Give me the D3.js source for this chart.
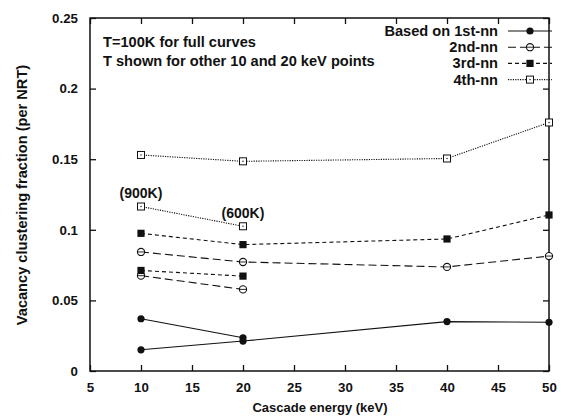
<!DOCTYPE html>
<html>
<head>
<meta charset="utf-8">
<script src="https://cdn.jsdelivr.net/npm/d3@7"></script>
<style>
  html, body { margin: 0; padding: 0; background: #fff; }
  svg text { font-family: "Liberation Sans", Arial, Helvetica, sans-serif; font-weight: bold; fill: #111; }
</style>
</head>
<body>
<svg id="chart" width="562" height="418"></svg>
<script>
// Cascade energies (keV)
const energies = [10, 20, 40, 50];
const lowEnergies = [10, 20];

// Vacancy clustering fraction at T=100K (full curves)
const nn1 = [0.0150, 0.0212, 0.0350, 0.0345];
const nn2 = [0.0843, 0.0772, 0.0737, 0.0814];
const nn3 = [0.0975, 0.0895, 0.0935, 0.1105];
const nn4 = [0.1530, 0.1485, 0.1505, 0.1760];

// Higher-temperature 10 and 20 keV points
const nn1Hot = [0.0370, 0.0235];
const nn2Hot = [0.0675, 0.0578];
const nn3Hot = [0.0712, 0.0672];
const nn4Hot = [0.1165, 0.1025];
const tempLabels = ["(900K)", "(600K)"];

const xTicks = [5, 10, 15, 20, 25, 30, 35, 40, 45, 50];
const yTicks = [0, 0.05, 0.1, 0.15, 0.2, 0.25];
const legendNames = ["Based on 1st-nn", "2nd-nn", "3rd-nn", "4th-nn"];

const svg = d3.select("#chart");
const plotLeft = 90, plotRight = 549, plotTop = 18, plotBottom = 371;

const x = d3.scaleLinear().domain([5, 50]).range([plotLeft, plotRight]);
const y = d3.scaleLinear().domain([0, 0.25]).range([plotBottom, plotTop]);

const styles = [
  { dash: null, marker: "filledCircle" },
  { dash: "8,4", marker: "openCircle" },
  { dash: "4,3", marker: "filledSquare" },
  { dash: "1.2,1.2", marker: "openSquare" }
];

// frame
svg.append("rect").attr("x", plotLeft).attr("y", plotTop)
  .attr("width", plotRight - plotLeft).attr("height", plotBottom - plotTop)
  .attr("fill", "none").attr("stroke", "#111").attr("stroke-width", 1.5);

// axes with inward ticks, mirrored on top and right
const fmtY = d => d === 0 ? "0" : String(d);
const gx = svg.append("g").attr("transform", `translate(0,${plotBottom})`)
  .call(d3.axisBottom(x).tickValues(xTicks).tickSizeInner(-6).tickSizeOuter(0).tickPadding(12));
const gxTop = svg.append("g").attr("transform", `translate(0,${plotTop})`)
  .call(d3.axisTop(x).tickValues(xTicks).tickSizeInner(-6).tickSizeOuter(0).tickFormat(""));
const gy = svg.append("g").attr("transform", `translate(${plotLeft},0)`)
  .call(d3.axisLeft(y).tickValues(yTicks).tickSizeInner(-6).tickSizeOuter(0).tickPadding(12).tickFormat(fmtY));
const gyRight = svg.append("g").attr("transform", `translate(${plotRight},0)`)
  .call(d3.axisRight(y).tickValues(yTicks).tickSizeInner(-6).tickSizeOuter(0).tickFormat(""));
[gx, gxTop, gy, gyRight].forEach(g => {
  g.select(".domain").remove();
  g.selectAll("line").attr("stroke", "#111").attr("stroke-width", 1.3);
  g.selectAll("text").attr("font-size", 13.3).attr("fill", "#111")
    .style("font-family", "'Liberation Sans', Arial, sans-serif").style("font-weight", "bold");
});

// axis titles
svg.append("text").attr("x", 320).attr("y", 412)
  .attr("text-anchor", "middle").attr("font-size", 13).text("Cascade energy (keV)");
svg.append("text").attr("transform", "translate(27,195) rotate(-90)")
  .attr("text-anchor", "middle").attr("font-size", 14.6).text("Vacancy clustering fraction (per NRT)");

// annotation
svg.append("text").attr("x", 103).attr("y", 47).attr("font-size", 14.6).text("T=100K for full curves");
svg.append("text").attr("x", 103).attr("y", 65.5).attr("font-size", 14.6).text("T shown for other 10 and 20 keV points");

function drawMarker(g, type, cx, cy) {
  if (type === "filledCircle") {
    g.append("circle").attr("cx", cx).attr("cy", cy).attr("r", 3.6).attr("fill", "#111");
  } else if (type === "openCircle") {
    g.append("circle").attr("cx", cx).attr("cy", cy).attr("r", 3.6)
      .attr("fill", "#fff").attr("stroke", "#111").attr("stroke-width", 1.1);
    g.append("line").attr("x1", cx - 3.6).attr("x2", cx + 3.6).attr("y1", cy).attr("y2", cy)
      .attr("stroke", "#111").attr("stroke-width", 0.9);
  } else if (type === "filledSquare") {
    g.append("rect").attr("x", cx - 3.6).attr("y", cy - 3.6).attr("width", 7.2).attr("height", 7.2).attr("fill", "#111");
  } else {
    g.append("rect").attr("x", cx - 3.5).attr("y", cy - 3.5).attr("width", 7).attr("height", 7)
      .attr("fill", "#fff").attr("stroke", "#111").attr("stroke-width", 1);
    g.append("rect").attr("x", cx - 0.6).attr("y", cy - 0.6).attr("width", 1.2).attr("height", 1.2).attr("fill", "#111");
  }
}

const line = d3.line().x(d => x(d[0])).y(d => y(d[1]));

function drawSeries(xs, ys, style) {
  const pts = xs.map((e, i) => [e, ys[i]]);
  const g = svg.append("g");
  g.append("path").attr("d", line(pts)).attr("fill", "none")
    .attr("stroke", "#111").attr("stroke-width", 1.1)
    .attr("stroke-dasharray", style.dash);
  pts.forEach(p => drawMarker(g, style.marker, x(p[0]), y(p[1])));
}

const full = [nn1, nn2, nn3, nn4];
const hot = [nn1Hot, nn2Hot, nn3Hot, nn4Hot];
full.forEach((s, i) => drawSeries(energies, s, styles[i]));
hot.forEach((s, i) => drawSeries(lowEnergies, s, styles[i]));

// temperature labels on the 4th-nn high-temperature points
tempLabels.forEach((t, i) => {
  svg.append("text").attr("x", x(lowEnergies[i])).attr("y", y(nn4Hot[i]) - 8.5)
    .attr("text-anchor", "middle").attr("font-size", 14).text(t);
});

// legend
legendNames.forEach((name, i) => {
  const ly = 31 + i * 16.2;
  svg.append("text").attr("x", 498).attr("y", ly + 5).attr("text-anchor", "end")
    .attr("font-size", 14.6).text(name);
  const g = svg.append("g");
  g.append("line").attr("x1", 508).attr("x2", 552).attr("y1", ly).attr("y2", ly)
    .attr("stroke", "#111").attr("stroke-width", 1.1).attr("stroke-dasharray", styles[i].dash);
  drawMarker(g, styles[i].marker, 530, ly);
});
</script>
</body>
</html>
